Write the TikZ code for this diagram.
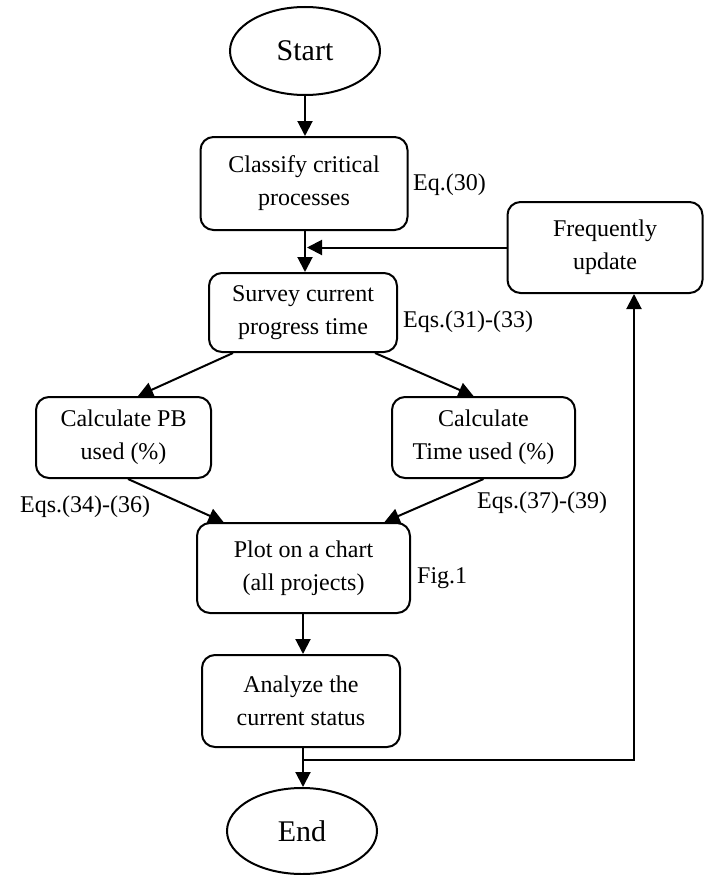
\documentclass[tikz,border=0pt]{standalone}
\usepackage{fontspec}
\setmainfont{Liberation Serif}
\usetikzlibrary{shapes.geometric,arrows.meta}
\begin{document}
\begin{tikzpicture}[x=1pt,y=-1pt,
  every node/.style={font=\fontsize{24}{33}\selectfont},
  procbox/.style={draw,line width=2pt,rounded corners=13pt,align=center,inner sep=0pt},
  termnode/.style={draw,line width=2pt,ellipse,inner sep=0pt,minimum width=150pt,font=\fontsize{30}{36}\selectfont},
  eqlabel/.style={anchor=west,inner sep=0pt},
  flow/.style={line width=2pt,-{Triangle[length=15pt,width=15pt]}}
]
\useasboundingbox (0,0) rectangle (712,875);
\node[termnode,minimum height=88pt] (start) at (305,51) {Start};
\node[procbox,minimum width=207pt,minimum height=93pt] (classify) at (304,183.5) {Classify critical\\processes};
\node[procbox,minimum width=188pt,minimum height=79pt] (survey) at (303,312.5) {Survey current\\progress time};
\node[procbox,minimum width=195pt,minimum height=91pt] (freq) at (605,247.5) {Frequently\\update};
\node[procbox,minimum width=175pt,minimum height=81pt] (pb) at (123.5,437.5) {Calculate PB\\used (\%)};
\node[procbox,minimum width=183pt,minimum height=81pt] (time) at (483.5,437.5) {Calculate\\Time used (\%)};
\node[procbox,minimum width=213pt,minimum height=90pt] (plot) at (303.5,568) {Plot on a chart\\(all projects)};
\node[procbox,minimum width=198pt,minimum height=92pt] (analyze) at (301,701) {Analyze the\\current status};
\node[termnode,minimum height=86pt] (end) at (302,831) {End};

\node[eqlabel] (eq30) at (413,185) {Eq.(30)};
\node[eqlabel] (eq31) at (403,322) {Eqs.(31)-(33)};
\node[eqlabel] (eq34) at (20,507) {Eqs.(34)-(36)};
\node[eqlabel] (eq37) at (477,503) {Eqs.(37)-(39)};
\node[eqlabel] (fig1) at (417,578) {Fig.1};

\coordinate (fbtip) at (307,247.5);
\coordinate (junc) at (303,760);
\coordinate (upx) at (634,0);

\draw[flow] (start.south) -- (start.south |- classify.north);
\draw[flow] (classify.south -| 305,0) -- (survey.north -| 305,0);
\draw[flow] (freq.west) -- (fbtip);
\draw[flow] ([xshift=-70pt]survey.south) -- ([xshift=14.5pt]pb.north);
\draw[flow] ([xshift=72pt]survey.south) -- ([xshift=-10pt]time.north);
\draw[flow] ([xshift=4.5pt]pb.south) -- ([xshift=-80pt]plot.north);
\draw[flow] (time.south) -- ([xshift=81pt]plot.north);
\draw[flow] (plot.south -| 303,0) -- (analyze.north -| 303,0);
\draw[flow] (analyze.south -| 303,0) -- (end.north -| 303,0);
\draw[flow] (junc) -| (freq.south -| upx);
\end{tikzpicture}
\end{document}
